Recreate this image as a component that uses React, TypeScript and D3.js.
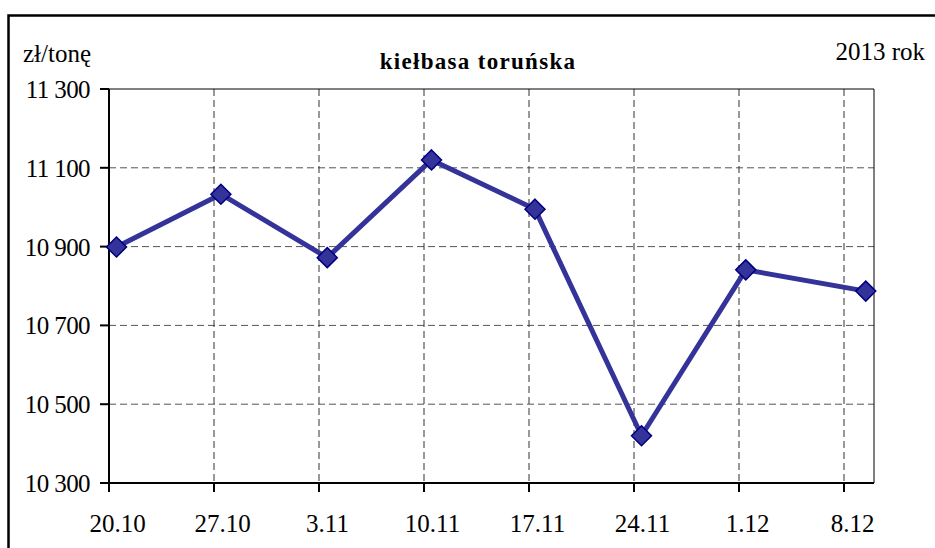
import React from "react";
import { scaleLinear, line } from "d3";

// week labels and day offsets (from 20.10) of the tick marks
const tickLabels = ["20.10", "27.10", "3.11", "10.11", "17.11", "24.11", "1.12", "8.12"];
const tickDays = [0, 7, 14, 21, 28, 35, 42, 49];
// observation day offsets (from 20.10) and prices in zł/tonę
const pointDays = [0.5, 7.46, 14.55, 21.5, 28.4, 35.5, 42.45, 50.45];
const prices = [10899, 11033, 10872, 11120, 10995, 10420, 10841, 10787];
const yTicks = [10300, 10500, 10700, 10900, 11100, 11300];

const W = 935;
const H = 548;
const plot = { left: 109, right: 874, top: 89, bottom: 483 };

const fmt = (v: number) => {
  const s = String(v);
  return s.slice(0, s.length - 3) + " " + s.slice(-3);
};

export default function App() {
  const x = scaleLinear().domain([0, 51]).range([plot.left, plot.right]);
  const y = scaleLinear().domain([10300, 11300]).range([plot.bottom, plot.top]);
  const pts = pointDays.map((d, i) => [x(d), y(prices[i])] as [number, number]);
  const path = line()(pts) || "";
  const font = "'Liberation Serif', 'Times New Roman', serif";

  return (
    <svg
      width={W}
      height={H}
      style={{ position: "absolute", left: 0, top: 0, background: "#fff" }}
      fontFamily={font}
    >
      {/* outer frame */}
      <rect x={8.5} y={15.5} width={1000} height={1000} fill="none" stroke="#000" strokeWidth={2.5} />

      {/* gridlines */}
      {yTicks.slice(1, -1).map((v) => (
        <line key={v} x1={plot.left} x2={plot.right} y1={y(v)} y2={y(v)} stroke="#555" strokeDasharray="7,4" />
      ))}
      {tickDays.slice(1).map((d) => (
        <line key={d} x1={x(d)} x2={x(d)} y1={plot.top} y2={plot.bottom} stroke="#333" strokeDasharray="7,4" />
      ))}

      {/* plot box */}
      <line x1={plot.left} x2={plot.right} y1={plot.top} y2={plot.top} stroke="#000" strokeWidth={1} />
      <line x1={plot.right} x2={plot.right} y1={plot.top} y2={plot.bottom} stroke="#000" strokeWidth={1} />
      <line x1={plot.left} x2={plot.left} y1={plot.top} y2={plot.bottom + 1} stroke="#000" strokeWidth={2} />
      <line x1={plot.left - 1} x2={plot.right} y1={plot.bottom} y2={plot.bottom} stroke="#000" strokeWidth={2} />

      {/* y axis ticks */}
      {yTicks.map((v) => (
        <g key={v}>
          <line x1={plot.left - 9} x2={plot.left} y1={y(v)} y2={y(v)} stroke="#000" strokeWidth={2} />
          <text x={plot.left - 19} y={y(v) + 9} textAnchor="end" fontSize={25} letterSpacing={-0.6}>
            {fmt(v)}
          </text>
        </g>
      ))}

      {/* x axis ticks */}
      {tickDays.map((d, i) => (
        <g key={d}>
          <line x1={x(d)} x2={x(d)} y1={plot.bottom} y2={plot.bottom + 9} stroke="#000" strokeWidth={2} />
          <text x={x(d) + 8.5} y={532} textAnchor="middle" fontSize={25}>
            {tickLabels[i]}
          </text>
        </g>
      ))}

      {/* series */}
      <path d={path} fill="none" stroke="#333399" strokeWidth={5} strokeLinejoin="round" />
      {pts.map(([px, py], i) => (
        <path
          key={i}
          d={`M${px},${py - 10}L${px + 10},${py}L${px},${py + 10}L${px - 10},${py}Z`}
          fill="#333399"
          stroke="#000080"
          strokeWidth={1.5}
        />
      ))}

      {/* labels */}
      <text x={23} y={62} fontSize={25}>zł/tonę</text>
      <text x={925} y={60} fontSize={25} textAnchor="end">2013 rok</text>
      <text x={478} y={69} fontSize={23} fontWeight="bold" textAnchor="middle" letterSpacing={1.3}>
        kiełbasa toruńska
      </text>
    </svg>
  );
}
